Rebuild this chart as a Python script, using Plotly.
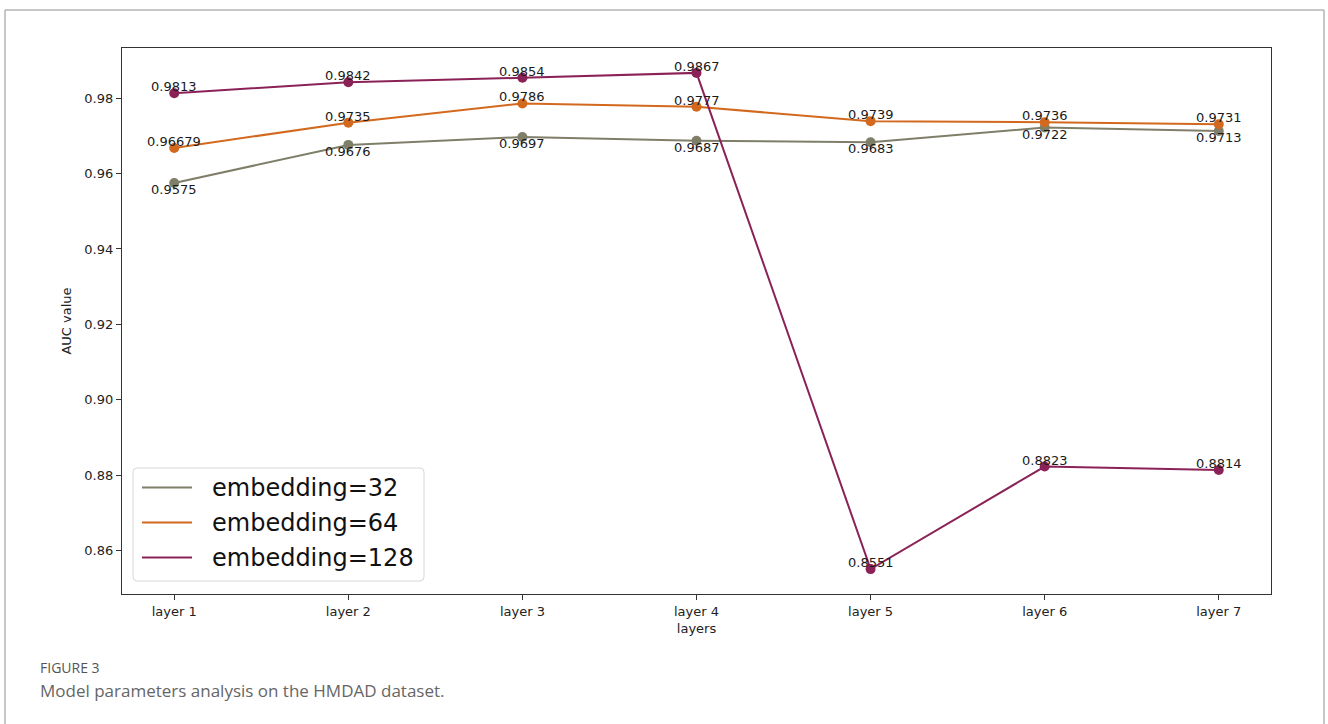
import plotly.graph_objects as go

# AUC per number of layers for three embedding sizes
layers = ["layer 1", "layer 2", "layer 3", "layer 4", "layer 5", "layer 6", "layer 7"]
auc_emb32 = [0.9575, 0.9676, 0.9697, 0.9687, 0.9683, 0.9722, 0.9713]
auc_emb64 = [0.96679, 0.9735, 0.9786, 0.9777, 0.9739, 0.9736, 0.9731]
auc_emb128 = [0.9813, 0.9842, 0.9854, 0.9867, 0.8551, 0.8823, 0.8814]
series_names = ["embedding=32", "embedding=64", "embedding=128"]
y_ticks = [0.86, 0.88, 0.90, 0.92, 0.94, 0.96, 0.98]

W, H = 1328, 724
# plot area in pixels
PX_L, PX_R, PX_T, PX_B = 122, 1271, 48, 594

colors = ["#7f7f69", "#d2691e", "#8b2257"]
label_above = [False, True, True]
FONT = "DejaVu Sans"


def px(x):
    return x / W


def py(y):
    return 1 - y / H


fig = go.Figure()
for name, vals, col, above in zip(series_names, [auc_emb32, auc_emb64, auc_emb128], colors, label_above):
    xs = list(range(len(layers)))
    fig.add_trace(go.Scatter(
        x=xs, y=vals, name=name, mode="lines+markers",
        line=dict(color=col, width=2),
        marker=dict(color=col, size=10),
        showlegend=False, cliponaxis=False,
    ))
    # value labels sitting right at the points
    for x, v in zip(xs, vals):
        fig.add_annotation(
            x=x, y=v, xref="x", yref="y", text=f"{v:g}", showarrow=False,
            xanchor="center", yanchor="bottom" if above else "top",
            yshift=-3 if above else 3,
            font=dict(family=FONT, size=13, color="#1a1a1a"),
        )

fig.update_layout(
    width=W, height=H,
    margin=dict(l=0, r=0, t=0, b=0),
    paper_bgcolor="white", plot_bgcolor="white",
    font=dict(family=FONT, size=13, color="#222222"),
    showlegend=False,
    xaxis=dict(
        domain=[px(PX_L), px(PX_R)],
        range=[-0.3, 6.3],
        tickmode="array", tickvals=list(range(len(layers))), ticktext=layers,
        showgrid=False, zeroline=False,
        showline=True, linecolor="#333333", linewidth=1.2, mirror=True,
        ticks="outside", ticklen=5, tickcolor="#333333",
        tickfont=dict(size=13, color="#222222"),
        title=dict(text="layers", font=dict(size=13), standoff=6),
    ),
    yaxis=dict(
        domain=[py(PX_B), py(PX_T)],
        range=[0.8485, 0.9933],
        tickmode="array", tickvals=y_ticks, ticktext=[f"{t:.2f}" for t in y_ticks],
        showgrid=False, zeroline=False,
        showline=True, linecolor="#333333", linewidth=1.2, mirror=True,
        ticks="outside", ticklen=5, tickcolor="#333333",
        tickfont=dict(size=13, color="#222222"),
        title=dict(text="AUC value", font=dict(size=13), standoff=9),
    ),
)

# legend box (lower left of the axes), line samples and entry text
LX0, LX1, LY0, LY1, R = 133, 424, 468, 581, 4
path = (f"M {px(LX0 + R)},{py(LY0)} L {px(LX1 - R)},{py(LY0)} "
        f"Q {px(LX1)},{py(LY0)} {px(LX1)},{py(LY0 + R)} "
        f"L {px(LX1)},{py(LY1 - R)} Q {px(LX1)},{py(LY1)} {px(LX1 - R)},{py(LY1)} "
        f"L {px(LX0 + R)},{py(LY1)} Q {px(LX0)},{py(LY1)} {px(LX0)},{py(LY1 - R)} "
        f"L {px(LX0)},{py(LY0 + R)} Q {px(LX0)},{py(LY0)} {px(LX0 + R)},{py(LY0)} Z")
fig.add_shape(type="path", xref="paper", yref="paper", path=path,
              fillcolor="rgba(255,255,255,0.8)", line=dict(color="#d8d8d8", width=1))
for i, (name, col) in enumerate(zip(series_names, colors)):
    yc = 487.5 + 35 * i
    fig.add_shape(type="line", xref="paper", yref="paper",
                  x0=px(142), x1=px(192), y0=py(yc), y1=py(yc),
                  line=dict(color=col, width=2))
    fig.add_annotation(xref="paper", yref="paper", x=px(210), y=py(yc),
                       xanchor="left", yanchor="middle", showarrow=False,
                       text=name, font=dict(family=FONT, size=24, color="#111111"))

# card border around the figure and caption
for x0, x1, y0, y1 in [(5, 5, 724, 10), (5, 1324, 10, 10), (1324, 1324, 724, 10)]:
    fig.add_shape(type="line", xref="paper", yref="paper",
                  x0=px(x0), x1=px(x1), y0=py(y0), y1=py(y1),
                  line=dict(color="#b5b5b5", width=1.5))

fig.add_annotation(xref="paper", yref="paper", x=px(38), y=py(667),
                   xanchor="left", yanchor="middle", showarrow=False,
                   text="FIGURE 3",
                   font=dict(family="Open Sans", size=14, color="#555555"))
fig.add_annotation(xref="paper", yref="paper", x=px(38), y=py(690),
                   xanchor="left", yanchor="middle", showarrow=False,
                   text="Model parameters analysis on the HMDAD dataset.",
                   font=dict(family="Open Sans", size=17, color="#666666"))

fig.write_html("out.html")
